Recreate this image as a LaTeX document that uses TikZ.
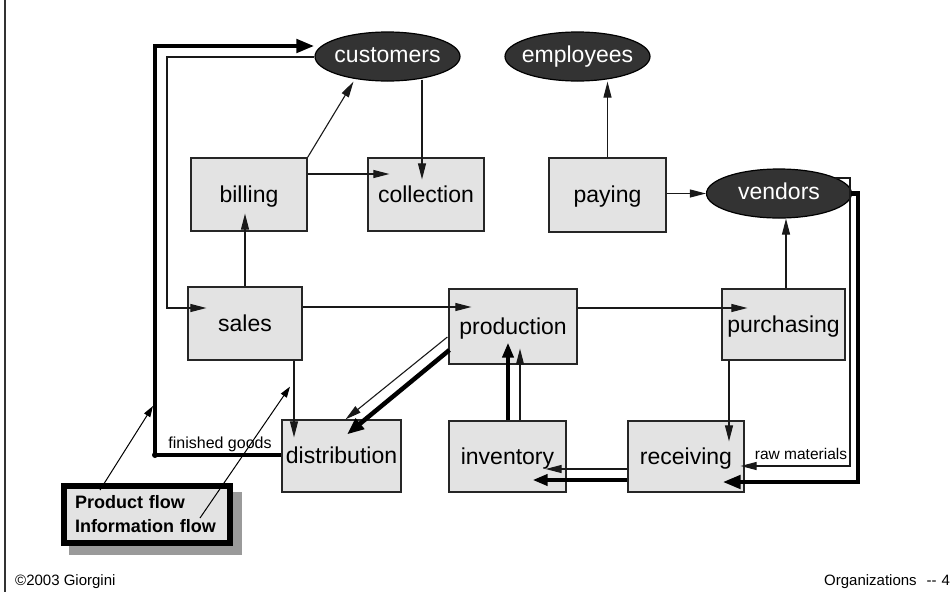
\documentclass[tikz,border=0pt]{standalone}
\usepackage{fontspec}
\setmainfont{Liberation Sans}
\usetikzlibrary{shapes.geometric,arrows.meta,calc}
\definecolor{boxfill}{HTML}{E3E3E3}
\definecolor{ovalfill}{HTML}{333333}
\definecolor{shadowgray}{HTML}{9A9A9A}
\begin{document}
\begin{tikzpicture}[x=1pt,y=-1pt,
  box/.style={draw=black!85, line width=1.2pt, fill=boxfill, rectangle, inner sep=0pt,
    text height=19pt, text depth=4pt, font=\fontsize{23}{27}\selectfont},
  oval/.style={draw=black, line width=1.2pt, fill=ovalfill, ellipse, inner xsep=-14pt, inner ysep=0pt,
    text height=17pt, text depth=6pt,
    minimum width=145pt, minimum height=49pt, text=white, font=\fontsize{23}{27}\selectfont},
  info/.style={draw=black!90, line width=1.1pt, -{Triangle[length=16pt,width=8pt]}},
  product/.style={draw=black, line width=4.5pt, -{Triangle[length=18pt,width=13pt]}},
  legarrow/.style={draw=black, line width=1pt, -{Triangle[length=11pt,width=7pt]}},
  small/.style={inner sep=0pt, font=\fontsize{16}{18}\selectfont},
]
\useasboundingbox (0,0) rectangle (952,592);

% page rule on the left
\draw[line width=2pt, black!80] (5,0) -- (5,592);

% external parties
\node[oval] (customers) at (387.5,56.5) {customers};
\node[oval] (employees) at (577.5,56.5) {employees};
\node[oval] (vendors)   at (779,193.5)  {vendors};

% departments
\node[box, minimum width=116pt, minimum height=73pt] (billing)      at (249,194.5)   {billing};
\node[box, minimum width=116pt, minimum height=73pt] (collection)   at (426,194.5)   {collection};
\node[box, minimum width=117pt, minimum height=74pt] (paying)       at (607.5,195)   {paying};
\node[box, minimum width=114pt, minimum height=73pt] (sales)        at (245,323.5)   {sales};
\node[box, minimum width=128pt, minimum height=75pt] (production)   at (513,326.5)   {production};
\node[box, minimum width=123pt, minimum height=71pt] (purchasing)   at (783.5,324.5) {purchasing};
\node[box, minimum width=119pt, minimum height=72pt] (distribution) at (341.5,456)   {distribution};
\node[box, minimum width=117pt, minimum height=71pt] (inventory)    at (507.5,456.5) {inventory};
\node[box, minimum width=116pt, minimum height=71pt] (receiving)    at (686,456.5)   {receiving};

% routing points
\coordinate (pcorner) at (155,455);
\coordinate (ptop)    at (155,46);
\coordinate (iA)      at (167,57);
\coordinate (iB)      at (167,308);
\coordinate (rmA)     at (850,178);
\coordinate (rmB)     at (850,466);
\coordinate (pvA)     at (858,193.5);
\coordinate (pvB)     at (858,482);

% finished goods: product flow to customers
\draw[product] (distribution.west |- pcorner) -- (pcorner) -- (ptop) -- (customers.west |- ptop);
\fill (pcorner) circle (3pt);
\node[small, anchor=base] (fglabel) at (220,448) {finished goods};

% information flows
\draw[info] (customers.west |- iA) -- (iA) -- (iB) -- ($(sales.west |- iB)+(19,0)$);
\draw[info] (billing.north east) -- ($(customers.south)+(-34,0)$);
\draw[info] ($(customers.south)+(34.5,-2)$) -- ($(collection.north)+(-4,22)$);
\draw[info] (billing.east |- 0,174) -- ($(collection.west |- 0,174)+(22,0)$);
\draw[info] (sales.north) -- ($(billing.south)+(-4,-18)$);
\draw[info] (sales.east |- 0,307) -- ($(production.west |- 0,307)+(23,0)$);
\draw[info] (production.east |- 0,308) -- ($(purchasing.west |- 0,308)+(26,0)$);
\draw[info] ($(purchasing.north)+(2.5,0)$) -- ($(vendors.south)+(7,0)$);
\draw[info] (paying.east |- vendors.west) -- (vendors.west);
\draw[info] (paying.north) -- (paying.north |- employees.south);
\draw[info] ($(purchasing.south)+(-54.5,0)$) -- ($(receiving.north)+(43,21)$);
\draw[info] ($(sales.south)+(49,0)$) -- ($(distribution.north)+(-47.5,18)$);

% raw materials from vendors
\draw[info] ($(vendors.center)+(56,-15.5)$) -- (rmA) -- (rmB) -- ($(receiving.east |- rmB)+(-4,0)$);
\draw[product] (vendors.east) -- (pvA) -- (pvB) -- ($(receiving.east |- pvB)+(-22,0)$);
\node[inner sep=0pt, font=\fontsize{15.5}{18}\selectfont, anchor=base] (rmlabel) at (801,459) {raw materials};

% receiving to inventory
\draw[info] (receiving.west |- 0,469) -- ($(inventory.east |- 0,469)+(-21,0)$);
\draw[product, -{Triangle[length=15pt,width=11pt]}] (receiving.west |- 0,480) -- ($(inventory.east |- 0,480)+(-34,0)$);

% inventory to production
\draw[product, -{Triangle[length=15pt,width=11pt]}] ($(inventory.north)+(0.5,0)$) -- ($(inventory.north |- production.south)+(0.5,-22)$);
\draw[info] ($(inventory.north)+(12.5,0)$) -- ($(inventory.north |- production.south)+(12.5,-16)$);

% production to distribution
\draw[info] ($(production.west)+(-1,10.5)$) -- ($(distribution.north)+(4,0)$);
\draw[product, -{Triangle[length=17pt,width=13pt]}] ($(production.west)+(1,23.5)$) -- ($(distribution.north)+(5.5,15)$);

% legend
\fill[shadowgray] (69,492) rectangle (242,555);
\node[draw=black, line width=6pt, fill=boxfill, minimum width=166pt, minimum height=57pt,
  inner sep=0pt, text width=144pt, align=left,
  font=\bfseries\fontsize{18}{24}\selectfont] (legend) at (147,514.5) {Product flow\\Information flow};
\draw[legarrow] ($(legend.north west)+(39,7)$) -- ($(pcorner)+(-2,-49)$);
\draw[legarrow] ($(legend.north west)+(139,35)$) -- ($(sales.south)+(45,26)$);

% footer
\node[inner sep=0pt, anchor=base west, font=\fontsize{15}{18}\selectfont] (copy) at (15,585) {©2003 Giorgini};
\node[inner sep=0pt, anchor=base west, font=\fontsize{15}{18}\selectfont] (pageno) at (824,585) {Organizations\hspace{10pt}-{}-\hspace{5pt}4};
\end{tikzpicture}
\end{document}
